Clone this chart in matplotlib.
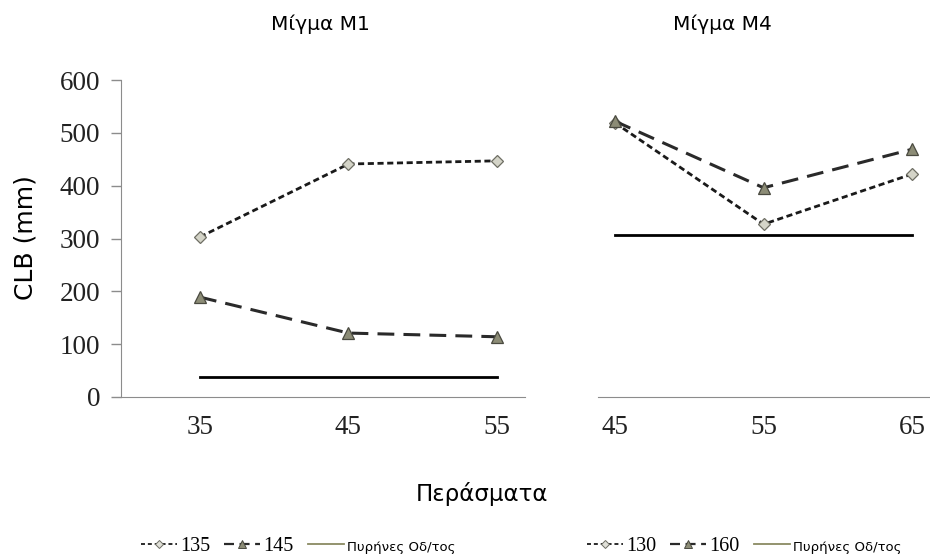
import matplotlib
matplotlib.use("Agg")
import matplotlib.pyplot as plt
from matplotlib.lines import Line2D

# Data
m1_passes = ["35", "45", "55"]
m1_s135 = [303, 441, 447]
m1_s145 = [189, 121, 114]
m1_core = 38

m4_passes = ["45", "55", "65"]
m4_s130 = [519, 327, 422]
m4_s160 = [522, 396, 469]
m4_core = 307

W, H = 930, 558
fig = plt.figure(figsize=(W / 100, H / 100), dpi=100)

SERIF = "Liberation Serif"
SANS = "DejaVu Sans"
SPINE = "#8c8c8c"

def px_axes(x0, x1, y_top, y_bot):
    return fig.add_axes([x0 / W, 1 - y_bot / H, (x1 - x0) / W, (y_bot - y_top) / H])

ax1 = px_axes(121, 525, 80, 397)
ax2 = px_axes(598, 930, 80, 397)

diamond_style = dict(marker="D", markersize=6.5, markerfacecolor="#d4d4c8",
                     markeredgecolor="#6e6e64", markeredgewidth=0.9)
tri_style = dict(marker="^", markersize=8.5, markerfacecolor="#8c8c76",
                 markeredgecolor="#4a4a40", markeredgewidth=0.9)

def panel(ax, labels, sa, sb, core, xlim):
    x = list(range(len(labels)))
    ax.plot(x, sa, color="#1a1a1a", lw=2.0, dashes=(2.2, 1.3), **diamond_style, zorder=3)
    ax.plot(x, sb, color="#2a2a2a", lw=2.2, dashes=(5.5, 3.0), **tri_style, zorder=3)
    ax.plot([x[0], x[-1]], [core, core], color="black", lw=2.0, zorder=2)
    ax.set_xlim(*xlim)
    ax.set_ylim(0, 600)
    ax.set_xticks(x)
    ax.set_xticklabels(labels, fontfamily=SERIF, fontsize=19.5)
    ax.tick_params(axis="x", length=0, pad=13, colors="#222222")
    for s in ("top", "right"):
        ax.spines[s].set_visible(False)
    ax.spines["bottom"].set_color(SPINE)
    ax.spines["left"].set_color(SPINE)

panel(ax1, m1_passes, m1_s135, m1_s145, m1_core, (-0.532, 2.189))
panel(ax2, m4_passes, m4_s130, m4_s160, m4_core, (-0.114, 2.12))

ax1.set_yticks(range(0, 601, 100))
for lab in ax1.get_yticklabels():
    lab.set_fontfamily(SERIF)
ax1.tick_params(axis="y", labelsize=19.5, length=7, width=1, pad=8,
                colors="#222222")
ax1.tick_params(axis="y", color=SPINE)

ax2.spines["left"].set_visible(False)
ax2.set_yticks([])

fig.text(320 / W, 1 - 24 / H, "Μίγμα Μ1", ha="center", va="center",
         fontfamily=SANS, fontsize=14.5)
fig.text(722 / W, 1 - 24 / H, "Μίγμα Μ4", ha="center", va="center",
         fontfamily=SANS, fontsize=14.5)
fig.text(26 / W, 1 - 238 / H, "CLB (mm)", rotation=90, ha="center", va="center",
         fontfamily=SANS, fontsize=18)
fig.text(482 / W, 1 - 494 / H, "Περάσματα", ha="center", va="center",
         fontfamily=SANS, fontsize=16.5)

def legend_handles():
    h_a = Line2D([], [], color="#1a1a1a", lw=1.3, dashes=(2.2, 1.6),
                 marker="D", markersize=4.5, markerfacecolor="#e0e0d8",
                 markeredgecolor="#6e6e64", markeredgewidth=0.7)
    h_b = Line2D([], [], color="#2a2a2a", lw=1.6, dashes=(4.5, 2.5),
                 marker="^", markersize=6, markerfacecolor="#8c8c76",
                 markeredgecolor="#4a4a40", markeredgewidth=0.7)
    h_c = Line2D([], [], color="#8a8a62", lw=1.3)
    return [h_a, h_b, h_c]

def add_legend(cx, names):
    leg = fig.legend(legend_handles(), names, loc="center", ncol=3,
                     bbox_to_anchor=(cx / W, 1 - 546 / H), frameon=False,
                     handlelength=1.8, handletextpad=0.15, columnspacing=0.7,
                     fontsize=14.5)
    texts = leg.get_texts()
    for t in texts[:2]:
        t.set_fontfamily(SERIF)
        t.set_fontsize(14.5)
    texts[2].set_fontfamily(SANS)
    texts[2].set_fontsize(9.5)
    return leg

add_legend(298, ["135", "145", "Πυρήνες Οδ/τος"])
add_legend(744, ["130", "160", "Πυρήνες Οδ/τος"])

fig.savefig("out.png", dpi=100)
